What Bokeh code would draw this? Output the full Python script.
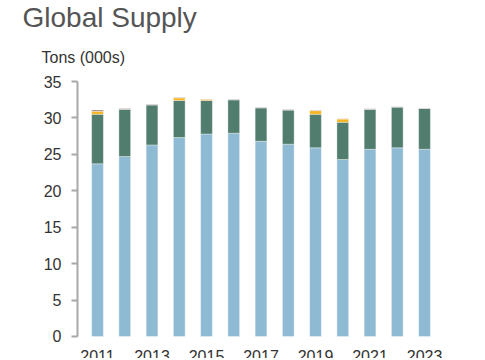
from bokeh.plotting import figure
from bokeh.models import ColumnDataSource, FixedTicker, Range1d, Title
from bokeh.core.properties import value
from bokeh.embed import file_html
from bokeh.resources import INLINE

years = [2011, 2012, 2013, 2014, 2015, 2016, 2017, 2018, 2019, 2020, 2021, 2022, 2023]
series_a = [23.7, 24.7, 26.3, 27.3, 27.8, 27.9, 26.8, 26.4, 25.9, 24.3, 25.7, 25.9, 25.7]
series_b = [6.8, 6.5, 5.5, 5.1, 4.6, 4.6, 4.6, 4.7, 4.6, 5.1, 5.5, 5.6, 5.6]
series_c = [0.4, 0.0, 0.0, 0.35, 0.15, 0.0, 0.0, 0.0, 0.5, 0.45, 0.0, 0.0, 0.0]
series_d = [0.2, 0.1, 0.08, 0.05, 0.05, 0.05, 0.05, 0.05, 0.05, 0.05, 0.05, 0.05, 0.05]
tick_years = [2011, 2013, 2015, 2017, 2019, 2021, 2023]
tick_labels = ["2011", "2013", "2015", "2017", "2019", "2021", "2023"]
y_ticks = [0, 5, 10, 15, 20, 25, 30, 35]

keys = ["a", "b", "c", "d"]
colors = ["#8EBAD3", "#507D6E", "#F5B520", "#A07E76"]

src = ColumnDataSource(dict(year=years, a=series_a, b=series_b, c=series_c, d=series_d))

p = figure(frame_width=380, frame_height=277, output_backend="svg", toolbar_location=None,
           title=None, x_range=Range1d(2010.266, 2024.21), y_range=Range1d(-3.02, 35),
           min_border_left=77, min_border_top=0, min_border_bottom=0, min_border_right=20)

p.vbar_stack(keys, x="year", width=0.43, color=colors, source=src,
             line_color="white", line_width=0.6, line_alpha=0.6)

p.xaxis.visible = False
p.xgrid.visible = False
p.ygrid.visible = False
p.outline_line_color = None

ya = p.yaxis[0]
ya.ticker = FixedTicker(ticks=y_ticks)
ya.bounds = (0, 35)
ya.axis_line_color = "#a8a8a8"
ya.axis_line_width = 2
ya.major_tick_line_color = "#a8a8a8"
ya.major_tick_line_width = 2
ya.major_tick_out = 6
ya.major_tick_in = 0
ya.minor_tick_line_color = None
ya.major_label_standoff = 10
ya.major_label_text_font = "Liberation Sans"
ya.major_label_text_font_size = "16px"
ya.major_label_text_color = "#333333"

lab_src = ColumnDataSource(dict(x=tick_years, y=[0] * len(tick_years), t=tick_labels))
p.text(x="x", y="y", text="t", source=lab_src, y_offset=14,
       text_align="center", text_baseline="top",
       text_font=value("Liberation Sans"), text_font_size="16px",
       text_color="#333333")

p.add_layout(Title(text="Tons (000s)", align="left", offset=-36, standoff=31,
                   text_font="Liberation Sans", text_font_size="16px",
                   text_font_style="normal", text_color="#333333"), "above")
p.add_layout(Title(text="Global Supply", align="left", offset=-55, standoff=-2,
                   text_font="Liberation Sans", text_font_size="28px",
                   text_font_style="normal", text_color="#555555"), "above")

open("out.html", "w").write(file_html(p, INLINE))
